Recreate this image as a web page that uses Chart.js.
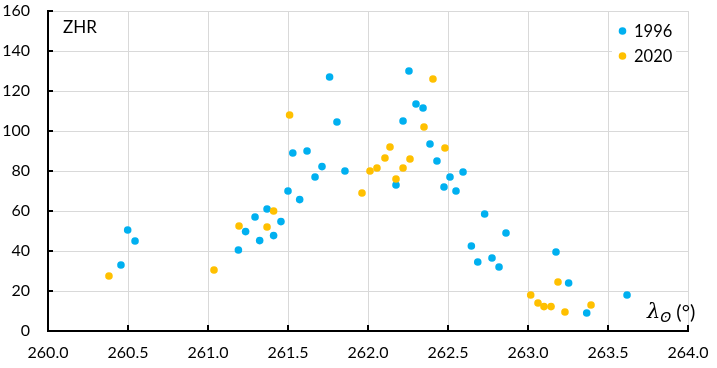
<!DOCTYPE html>
<html>
<head>
<meta charset="utf-8">
<script src="https://cdn.jsdelivr.net/npm/chart.js@4/dist/chart.umd.min.js"></script>
<style>
html,body{margin:0;padding:0;background:#fff;}
#wrap{width:717px;height:368px;position:relative;}
</style>
</head>
<body>
<div id="wrap"><canvas id="c" width="717" height="368"></canvas></div>
<script>
// Solar longitude (deg) and ZHR values
const lam1996 = [260.456,260.498,260.544,261.19,261.235,261.294,261.323,261.369,261.41,261.456,
  261.5,261.53,261.573,261.619,261.669,261.7125,261.76,261.806,261.856,262.175,
  262.219,262.256,262.3,262.344,262.3875,262.431,262.475,262.5125,262.55,262.594,
  262.646,262.686,262.729,262.775,262.819,262.8625,263.175,263.254,263.367,263.619];
const zhr1996 = [33,50.5,45,40.5,49.7,57,45.2,61,47.7,54.7,
  70,89,65.7,90,77,82.2,127,104.5,80,73,
  105,130,113.5,111.5,93.5,85,72,77,70,79.5,
  42.5,34.5,58.5,36.5,32,49,39.5,24,9,18];
const lam2020 = [260.381,261.0375,261.194,261.369,261.41,261.51,261.9625,262.0125,262.056,262.106,
  262.1375,262.175,262.219,262.2625,262.35,262.406,262.481,263.017,263.0625,263.1,
  263.144,263.1875,263.231,263.394];
const zhr2020 = [27.5,30.5,52.5,52,60,108,69,80,81.5,86.5,
  92,76,81.5,86,102,126,91.5,18,14,12.2,
  12.2,24.5,9.5,13];
const seriesNames = ['1996','2020'];
const xTicksMin = 260.0, xTicksMax = 264.0, xStep = 0.5;
const yTicksMin = 0, yTicksMax = 160, yStep = 20;
const yTitle = 'ZHR';

const BLUE = '#00B0F0', ORANGE = '#FFC000';
const FONT = 'Lato, "Open Sans", sans-serif';

function pts(xs, ys){ return xs.map((x,i)=>({x:x, y:ys[i]})); }

const decor = {
  id:'decor',
  afterDatasetsDraw(chart){
    const ctx = chart.ctx, xs = chart.scales.x, ys = chart.scales.y;
    ctx.save();
    // inner tick marks
    ctx.strokeStyle = '#000'; ctx.lineWidth = 2;
    ctx.beginPath();
    for (let v = yTicksMin; v <= yTicksMax; v += yStep){
      const py = Math.round(ys.getPixelForValue(v));
      ctx.moveTo(xs.left, py); ctx.lineTo(xs.left + 5, py);
    }
    for (let v = xTicksMin; v <= xTicksMax + 1e-9; v += xStep){
      const px = Math.round(xs.getPixelForValue(v));
      ctx.moveTo(px, ys.bottom); ctx.lineTo(px, ys.bottom - 6);
    }
    ctx.stroke();
    // y title inside plot
    ctx.fillStyle = '#000';
    ctx.font = '17px ' + FONT;
    ctx.textBaseline = 'middle'; ctx.textAlign = 'left';
    ctx.fillText(yTitle, xs.left + 15, ys.top + 17);
    // x title  λ⊙ (°)
    ctx.textBaseline = 'alphabetic';
    ctx.font = 'italic 21px "DejaVu Serif", serif';
    let x0 = xs.right - 41, base = ys.bottom - 13;
    ctx.fillText('λ', x0, base);
    x0 += ctx.measureText('λ').width;
    ctx.font = 'italic 14px "DejaVu Sans", sans-serif';
    ctx.fillText('ʘ', x0, base + 4);
    x0 += ctx.measureText('ʘ').width + 5;
    ctx.font = '20px ' + FONT;
    ctx.fillText('(°)', x0, base + 1);
    // legend
    const lx = xs.right - 76, ly = ys.top + 6;
    ctx.fillStyle = '#fff';
    ctx.fillRect(lx, ly, 64, 52);
    const items = [[seriesNames[0], BLUE], [seriesNames[1], ORANGE]];
    items.forEach((it, i) => {
      const cy = ys.top + 20 + i * 25;
      ctx.fillStyle = it[1];
      ctx.beginPath(); ctx.arc(lx + 10.5, cy, 3.8, 0, Math.PI * 2); ctx.fill();
      ctx.fillStyle = '#000';
      ctx.font = '16.5px ' + FONT;
      ctx.textBaseline = 'middle'; ctx.textAlign = 'left';
      ctx.fillText(it[0], lx + 22, cy + 1);
    });
    ctx.restore();
  }
};

new Chart(document.getElementById('c'), {
  type: 'scatter',
  data: {
    datasets: [
      { label: seriesNames[0], data: pts(lam1996, zhr1996), backgroundColor: BLUE, borderWidth: 0, pointRadius: 3.8, pointHoverRadius: 3.8, order: 2 },
      { label: seriesNames[1], data: pts(lam2020, zhr2020), backgroundColor: ORANGE, borderWidth: 0, pointRadius: 3.8, pointHoverRadius: 3.8, order: 1 }
    ]
  },
  options: {
    responsive: false,
    animation: false,
    events: [],
    layout: { padding: { top: 11, right: 29, left: 0, bottom: 0 } },
    plugins: { legend: { display: false }, tooltip: { enabled: false } },
    scales: {
      x: {
        type: 'linear', min: xTicksMin, max: xTicksMax,
        afterFit(s){ s.height = 37; s.paddingLeft = 0; s.paddingRight = 0; },
        ticks: { stepSize: xStep, color: '#000', font: { family: FONT, size: 16 }, padding: 12, maxRotation: 0,
                 callback: v => Number(v).toFixed(1) },
        grid: { color: '#d9d9d9', lineWidth: 1, drawTicks: false },
        border: { color: '#000', width: 2 }
      },
      y: {
        type: 'linear', min: yTicksMin, max: yTicksMax,
        afterFit(s){ s.width = 48; s.paddingTop = 0; s.paddingBottom = 0; },
        ticks: { stepSize: yStep, color: '#000', font: { family: FONT, size: 16 }, padding: 18 },
        grid: { color: '#d9d9d9', lineWidth: 1, drawTicks: false },
        border: { color: '#000', width: 2 }
      }
    }
  },
  plugins: [decor]
});
</script>
</body>
</html>
